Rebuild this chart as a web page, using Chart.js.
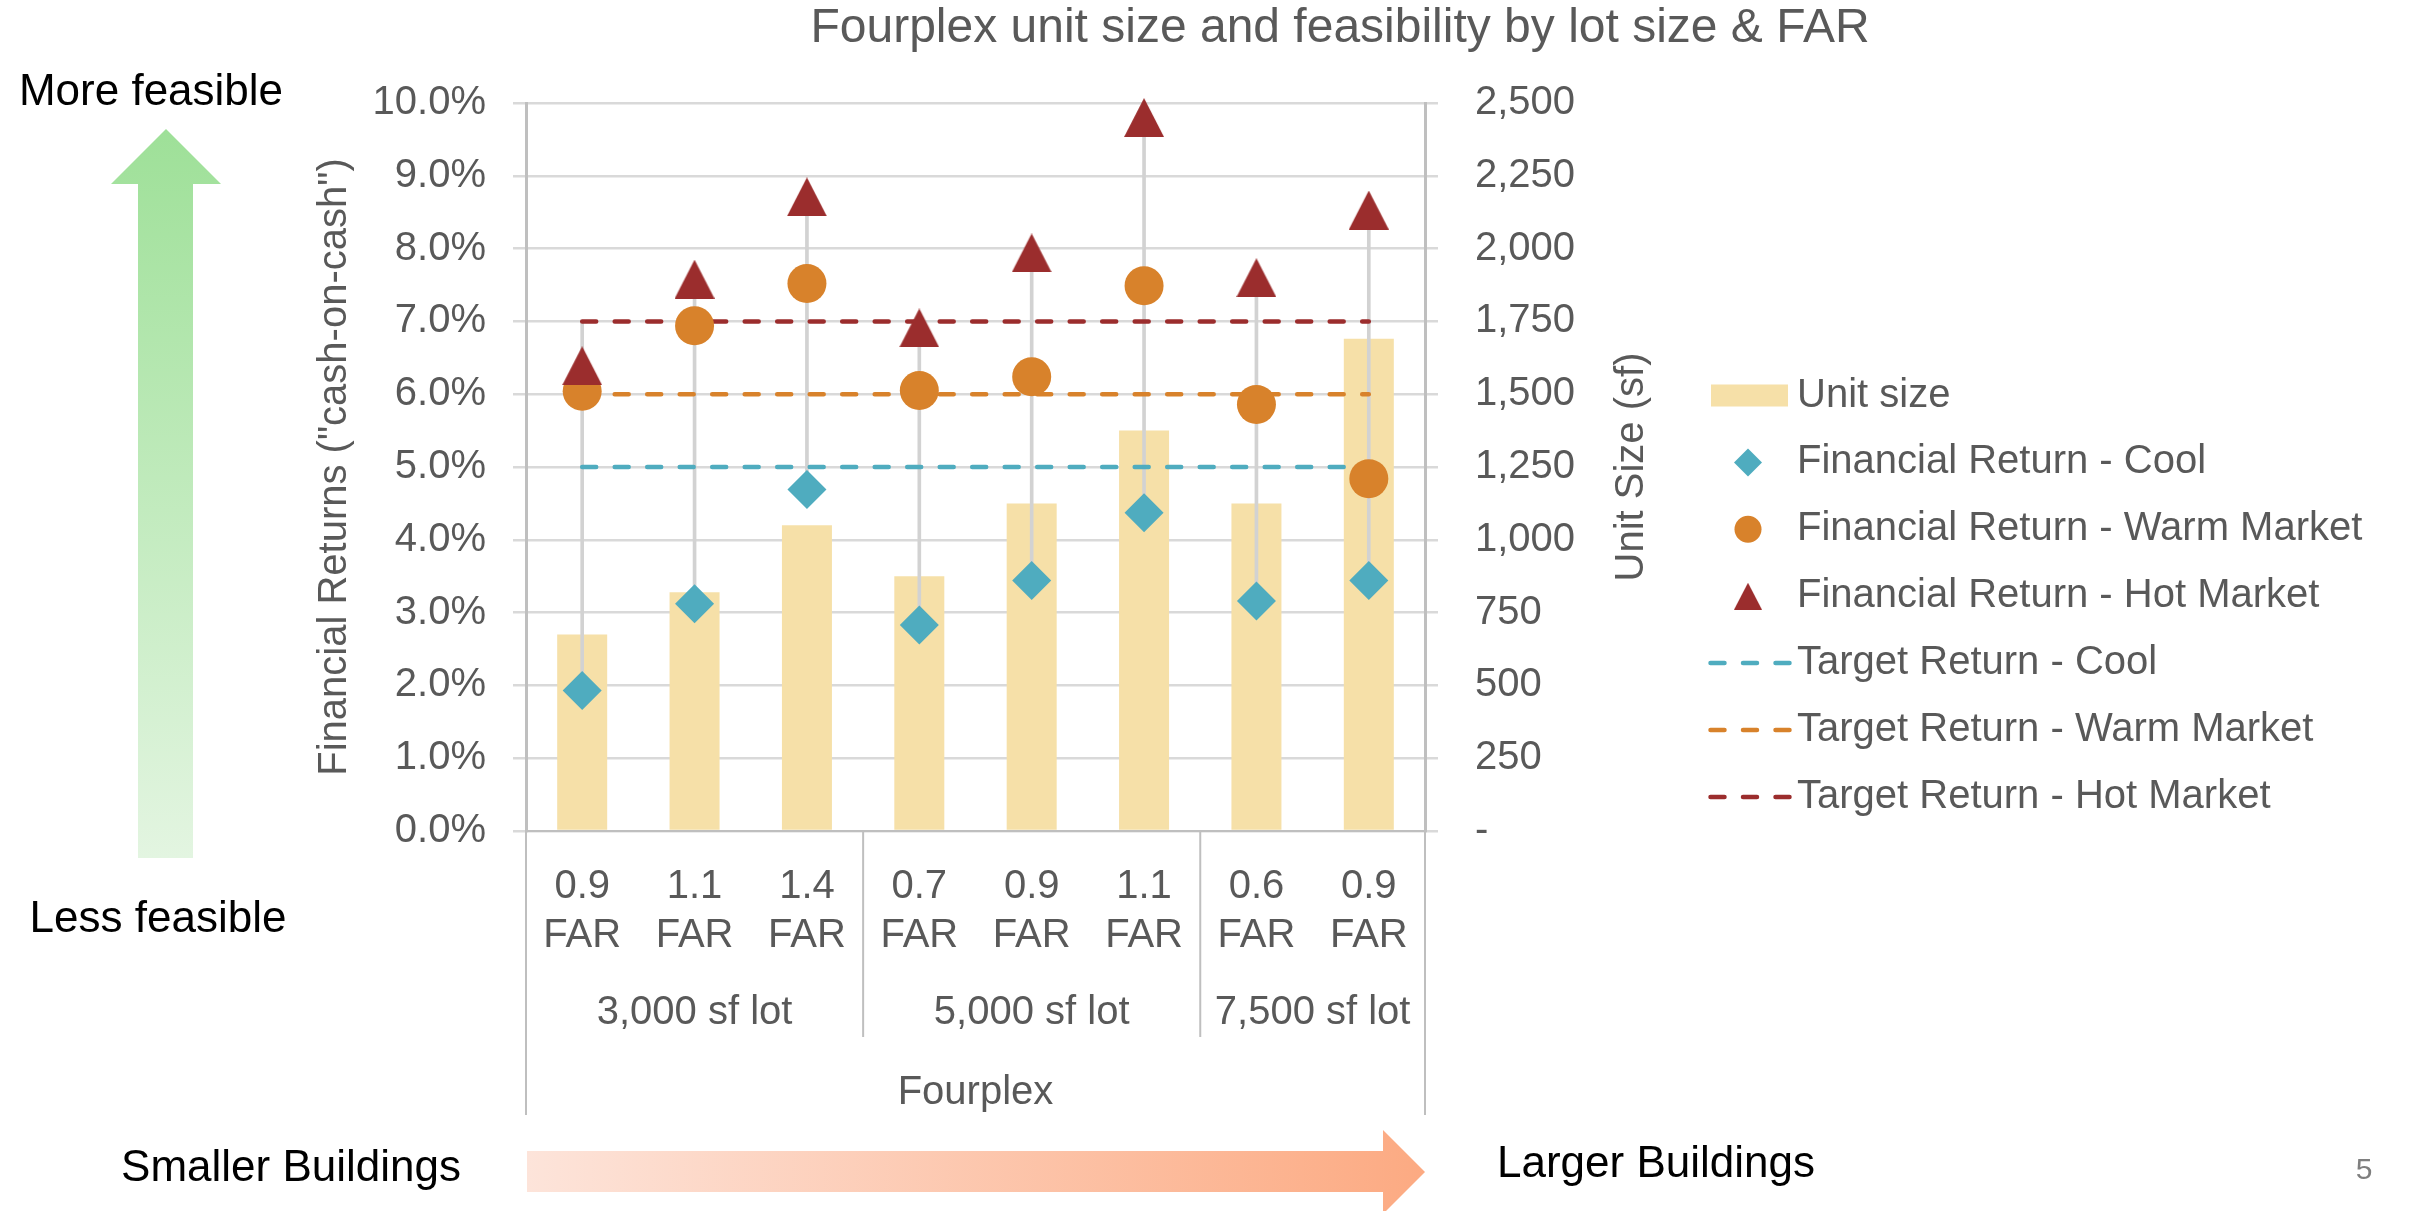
<!DOCTYPE html>
<html>
<head>
<meta charset="utf-8">
<title>Fourplex unit size and feasibility</title>
<script src="https://cdn.jsdelivr.net/npm/chart.js@4.4.1/dist/chart.umd.min.js"></script>
<style>
    html, body { margin: 0; padding: 0; background: #ffffff; }
    #wrap { position: relative; width: 2410px; height: 1211px; }
    canvas { display: block; }
</style>
</head>
<body>
<div id="wrap"><canvas id="chartFourplex" width="2410" height="1211"></canvas></div>
<script>
// ========================================
// DATA
// ========================================
const farLabels = ['0.9', '1.1', '1.4', '0.7', '0.9', '1.1', '0.6', '0.9'];
const lotGroups = ['3,000 sf lot', '5,000 sf lot', '7,500 sf lot'];
const lotGroupSizes = [3, 3, 2];
const buildingType = 'Fourplex';

const unitSize   = [675, 820, 1050, 875, 1125, 1375, 1125, 1690];
const returnCool = [1.93, 3.12, 4.69, 2.83, 3.44, 4.37, 3.16, 3.44];
const returnWarm = [6.04, 6.94, 7.52, 6.05, 6.24, 7.49, 5.86, 4.84];
const returnHot  = [6.39, 7.58, 8.71, 6.91, 7.94, 9.80, 7.60, 8.53];
const targetCool = [5.0, 5.0, 5.0, 5.0, 5.0, 5.0, 5.0, 5.0];
const targetWarm = [6.0, 6.0, 6.0, 6.0, 6.0, 6.0, 6.0, 6.0];
const targetHot  = [7.0, 7.0, 7.0, 7.0, 7.0, 7.0, 7.0, 7.0];

const chartTitle = 'Fourplex unit size and feasibility by lot size & FAR';

// ========================================
// STYLE
// ========================================
const FONT = "'Liberation Sans', Arial, sans-serif";
const TEXT_GRAY = '#595959';
const GRID_GRAY = '#D9D9D9';
const AXIS_GRAY = '#BFBFBF';
const C_BAR  = '#F6E0A8';
const C_COOL = '#4FACBF';
const C_WARM = '#D8822B';
const C_HOT  = '#9B2D2D';

// triangle marker centred on its box (like Excel)
function makeTriangle(w, h, color) {
    const c = document.createElement('canvas');
    c.width = w;
    c.height = h;
    const g = c.getContext('2d');
    g.fillStyle = color;
    g.beginPath();
    g.moveTo(w / 2, 0);
    g.lineTo(w, h);
    g.lineTo(0, h);
    g.closePath();
    g.fill();
    return c;
}
const triPlot = makeTriangle(40, 39, C_HOT);
const triLegend = makeTriangle(28, 27, C_HOT);

// high-low lines: span of all line series per category
const lineSeries = [returnCool, returnWarm, returnHot, targetCool, targetWarm, targetHot];
const highLow = farLabels.map((_, i) => {
    const vals = lineSeries.map(s => s[i]);
    return [Math.min(...vals), Math.max(...vals)];
});

// ========================================
// PLUGIN: title, legend, group labels, arrows
// ========================================
const decorPlugin = {
    id: 'decor',
    afterDraw(chart) {
        const ctx = chart.ctx;
        const area = chart.chartArea;
        const xs = chart.scales.x;
        ctx.save();

        // title
        ctx.fillStyle = TEXT_GRAY;
        ctx.font = `48px ${FONT}`;
        ctx.textAlign = 'center';
        ctx.textBaseline = 'middle';
        ctx.fillText(chartTitle, 1340, 29);

        // right axis title (bottom-to-top)
        ctx.save();
        ctx.translate(1632, (area.top + area.bottom) / 2);
        ctx.rotate(-Math.PI / 2);
        ctx.font = `40px ${FONT}`;
        ctx.fillText('Unit Size (sf)', 0, 0);
        ctx.restore();

        // category group separators + labels
        ctx.strokeStyle = AXIS_GRAY;
        ctx.lineWidth = 2;
        const outerBottom = 1115;
        const innerBottom = 1037;
        [area.left, area.right].forEach(x => {
            ctx.beginPath();
            ctx.moveTo(x, area.bottom);
            ctx.lineTo(x, outerBottom);
            ctx.stroke();
        });
        let start = 0;
        ctx.font = `40px ${FONT}`;
        ctx.fillStyle = TEXT_GRAY;
        lotGroups.forEach((name, g) => {
            const end = start + lotGroupSizes[g] - 1;
            const cx = (xs.getPixelForValue(start) + xs.getPixelForValue(end)) / 2;
            ctx.fillText(name, cx, 1013);
            if (g < lotGroups.length - 1) {
                const sx = (xs.getPixelForValue(end) + xs.getPixelForValue(end + 1)) / 2;
                ctx.beginPath();
                ctx.moveTo(sx, area.bottom);
                ctx.lineTo(sx, innerBottom);
                ctx.stroke();
            }
            start = end + 1;
        });
        ctx.fillText(buildingType, (area.left + area.right) / 2, 1093);

        // legend
        const lx = 1748;
        const tx = 1797;
        const rowTop = 395.5;
        const rowStep = 66.9;
        let row = 0;
        ctx.textAlign = 'left';
        chart.data.datasets.forEach(ds => {
            if (!ds.legendKind) return;
            const y = rowTop + row * rowStep;
            if (ds.legendKind === 'box') {
                ctx.fillStyle = ds.backgroundColor;
                ctx.fillRect(1711, y - 11, 77, 22);
            } else if (ds.legendKind === 'diamond') {
                ctx.fillStyle = ds.pointBackgroundColor;
                ctx.beginPath();
                ctx.moveTo(lx - 14, y);
                ctx.lineTo(lx, y - 14);
                ctx.lineTo(lx + 14, y);
                ctx.lineTo(lx, y + 14);
                ctx.closePath();
                ctx.fill();
            } else if (ds.legendKind === 'circle') {
                ctx.fillStyle = ds.pointBackgroundColor;
                ctx.beginPath();
                ctx.arc(lx, y, 13.5, 0, Math.PI * 2);
                ctx.fill();
            } else if (ds.legendKind === 'triangle') {
                ctx.drawImage(triLegend, lx - 14, y - 13.5);
            } else if (ds.legendKind === 'dash') {
                ctx.save();
                ctx.strokeStyle = ds.borderColor;
                ctx.lineWidth = 4.5;
                ctx.lineCap = 'round';
                ctx.setLineDash([14, 18.5]);
                ctx.beginPath();
                ctx.moveTo(1710.5, y);
                ctx.lineTo(1789.5, y);
                ctx.stroke();
                ctx.restore();
            }
            ctx.fillStyle = TEXT_GRAY;
            ctx.font = `40px ${FONT}`;
            ctx.fillText(ds.label, tx, y);
            row++;
        });

        // feasibility arrow (left)
        let grad = ctx.createLinearGradient(0, 129, 0, 858);
        grad.addColorStop(0, 'rgb(158,224,152)');
        grad.addColorStop(1, 'rgb(227,245,225)');
        ctx.fillStyle = grad;
        ctx.beginPath();
        ctx.moveTo(166, 129);
        ctx.lineTo(221, 184);
        ctx.lineTo(193, 184);
        ctx.lineTo(193, 858);
        ctx.lineTo(138, 858);
        ctx.lineTo(138, 184);
        ctx.lineTo(111, 184);
        ctx.closePath();
        ctx.fill();

        // building size arrow (bottom)
        grad = ctx.createLinearGradient(527, 0, 1425, 0);
        grad.addColorStop(0, 'rgb(253,228,218)');
        grad.addColorStop(1, 'rgb(252,170,130)');
        ctx.fillStyle = grad;
        ctx.beginPath();
        ctx.moveTo(527, 1151);
        ctx.lineTo(1383, 1151);
        ctx.lineTo(1383, 1130);
        ctx.lineTo(1425, 1172);
        ctx.lineTo(1383, 1214);
        ctx.lineTo(1383, 1192);
        ctx.lineTo(527, 1192);
        ctx.closePath();
        ctx.fill();

        // side texts
        ctx.fillStyle = '#000000';
        ctx.font = `44px ${FONT}`;
        ctx.textAlign = 'center';
        ctx.fillText('More feasible', 151, 93);
        ctx.fillText('Less feasible', 158, 920);
        ctx.fillText('Smaller Buildings', 291, 1169);
        ctx.fillText('Larger Buildings', 1656, 1165);

        // page number
        ctx.fillStyle = '#7F7F7F';
        ctx.font = `30px ${FONT}`;
        ctx.fillText('5', 2364, 1171);

        ctx.restore();
    }
};

// ========================================
// CHART
// ========================================
const ctx = document.getElementById('chartFourplex');

const chartFourplex = new Chart(ctx, {
    data: {
        labels: farLabels.map(v => [v, 'FAR']),
        datasets: [
            {
                type: 'bar',
                label: 'Unit size',
                legendKind: 'box',
                data: unitSize,
                yAxisID: 'y1',
                backgroundColor: C_BAR,
                borderWidth: 0,
                grouped: false,
                barPercentage: 0.445,
                categoryPercentage: 1,
                order: 10
            },
            {
                type: 'bar',
                label: 'high-low',
                data: highLow,
                yAxisID: 'y',
                backgroundColor: '#D2D2D2',
                borderWidth: 0,
                grouped: false,
                barThickness: 3,
                order: 9
            },
            {
                type: 'line',
                label: 'Financial Return - Cool',
                legendKind: 'diamond',
                data: returnCool,
                yAxisID: 'y',
                showLine: false,
                pointStyle: 'rectRot',
                pointRadius: 19.5,
                pointBackgroundColor: C_COOL,
                pointBorderWidth: 0,
                clip: false,
                order: 3
            },
            {
                type: 'line',
                label: 'Financial Return - Warm Market',
                legendKind: 'circle',
                data: returnWarm,
                yAxisID: 'y',
                showLine: false,
                pointStyle: 'circle',
                pointRadius: 19.5,
                pointBackgroundColor: C_WARM,
                pointBorderWidth: 0,
                clip: false,
                order: 2
            },
            {
                type: 'line',
                label: 'Financial Return - Hot Market',
                legendKind: 'triangle',
                data: returnHot,
                yAxisID: 'y',
                showLine: false,
                pointStyle: triPlot,
                pointRadius: 20,
                pointBackgroundColor: C_HOT,
                pointBorderWidth: 0,
                clip: false,
                order: 1
            },
            {
                type: 'line',
                label: 'Target Return - Cool',
                legendKind: 'dash',
                data: targetCool,
                yAxisID: 'y',
                borderColor: C_COOL,
                borderWidth: 4.5,
                borderDash: [14, 18.5],
                borderCapStyle: 'round',
                pointRadius: 0,
                fill: false,
                order: 6
            },
            {
                type: 'line',
                label: 'Target Return - Warm Market',
                legendKind: 'dash',
                data: targetWarm,
                yAxisID: 'y',
                borderColor: C_WARM,
                borderWidth: 4.5,
                borderDash: [14, 18.5],
                borderCapStyle: 'round',
                pointRadius: 0,
                fill: false,
                order: 5
            },
            {
                type: 'line',
                label: 'Target Return - Hot Market',
                legendKind: 'dash',
                data: targetHot,
                yAxisID: 'y',
                borderColor: C_HOT,
                borderWidth: 4.5,
                borderDash: [14, 18.5],
                borderCapStyle: 'round',
                pointRadius: 0,
                fill: false,
                order: 4
            }
        ]
    },
    options: {
        responsive: false,
        animation: false,
        layout: {
            padding: { left: 311, right: 754, top: 103, bottom: 250 }
        },
        plugins: {
            legend: { display: false },
            tooltip: { enabled: false },
            title: { display: false }
        },
        scales: {
            x: {
                type: 'category',
                grid: { display: false, drawTicks: false },
                border: { display: true, color: AXIS_GRAY, width: 2 },
                ticks: {
                    color: TEXT_GRAY,
                    font: { family: FONT, size: 40, lineHeight: 1.225 },
                    padding: 31,
                    maxRotation: 0,
                    autoSkip: false
                },
                afterFit: s => { s.height = 130; }
            },
            y: {
                position: 'left',
                min: 0,
                max: 10,
                grid: { color: GRID_GRAY, lineWidth: 2.5, tickLength: 13, drawTicks: true },
                border: { display: true, color: AXIS_GRAY, width: 3 },
                ticks: {
                    stepSize: 1,
                    color: TEXT_GRAY,
                    font: { family: FONT, size: 40 },
                    padding: 27,
                    callback: v => v.toFixed(1) + '%'
                },
                title: {
                    display: true,
                    text: 'Financial Returns ("cash-on-cash")',
                    color: TEXT_GRAY,
                    font: { family: FONT, size: 40 },
                    padding: 0
                },
                afterFit: s => { s.width = 215; }
            },
            y1: {
                position: 'right',
                min: 0,
                max: 2500,
                grid: { drawOnChartArea: false, color: GRID_GRAY, lineWidth: 2.5, tickLength: 13 },
                border: { display: true, color: AXIS_GRAY, width: 3 },
                ticks: {
                    stepSize: 250,
                    color: TEXT_GRAY,
                    font: { family: FONT, size: 40 },
                    padding: 37,
                    callback: v => v === 0 ? '-' : v.toLocaleString('en-US')
                },
                afterFit: s => { s.width = 231; }
            }
        }
    },
    plugins: [decorPlugin]
});

console.log('chart area', chartFourplex.chartArea);
</script>
</body>
</html>
